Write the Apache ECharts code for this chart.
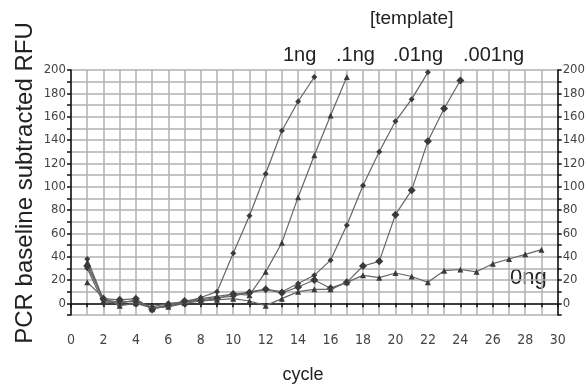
<!DOCTYPE html>
<html>
<head>
<meta charset="utf-8">
<script src="https://cdn.jsdelivr.net/npm/echarts@6/dist/echarts.min.js"></script>
<style>
  html, body { margin: 0; padding: 0; background: #fff; }
  #chart { width: 588px; height: 387px; }
</style>
</head>
<body>
<div id="chart"></div>
<script>
// cycles 1..29
var cycles = [1,2,3,4,5,6,7,8,9,10,11,12,13,14,15,16,17,18,19,20,21,22,23,24,25,26,27,28,29];

// RFU per template amount
var ng1    = [38, 3, 1, 2, -4, -2, 1, 5, 10, 43, 75, 111, 148, 173, 194];
var ng01   = [35, 2, 0, 3, -5, -1, 2, 4, 6, 8, 7, 27, 52, 91, 127, 161, 194];
var ng001  = [30, 0, 2, 1, -3, 0, 1, 3, 5, 6, 10, 12, 10, 17, 24, 37, 67, 101, 130, 156, 175, 198];
var ng0001 = [32, 4, 3, 4, -5, -2, 2, 2, 4, 8, 9, 12, 9, 14, 20, 13, 18, 32, 36, 76, 97, 139, 167, 191];
var ng0    = [18, 5, -2, 0, -4, -3, 0, 2, 3, 4, 2, -2, 4, 10, 12, 12, 18, 24, 22, 26, 23, 18, 28, 29, 27, 34, 38, 42, 46];

var seriesNames = ["1ng", ".1ng", ".01ng", ".001ng", "0ng"];
var seriesSymbols = ["diamond", "triangle", "diamond", "diamond", "triangle"];

var labelFont = "'Liberation Sans Narrow', 'DejaVu Sans Condensed', sans-serif";
var textFont = "Arial, 'Liberation Sans', sans-serif";

function pairs(vals) {
  return vals.map(function (v, i) { return [cycles[i], v]; });
}

var chart = echarts.init(document.getElementById("chart"));

var yAxisBase = {
  type: "value",
  min: -10,
  max: 200,
  interval: 10,
  axisLine: { show: true, lineStyle: { color: "#111", width: 1.5 } },
  axisTick: { show: true, length: 4, lineStyle: { color: "#111", width: 1.5 } },
  axisLabel: {
    fontFamily: labelFont,
    fontSize: 13,
    color: "#444",
    margin: 5,
    formatter: function (v) {
      return (v >= 0 && v % 20 === 0) ? String(v) : "";
    }
  }
};

var option = {
  animation: false,
  grid: { left: 71, right: 30, top: 70, bottom: 72 },
  xAxis: {
    type: "value",
    min: 0,
    max: 30,
    interval: 1,
    axisLine: { show: true, lineStyle: { color: "#111", width: 1.5 } },
    axisTick: { show: true, length: 4, lineStyle: { color: "#111", width: 1.5 } },
    splitLine: { show: true, lineStyle: { color: "#b0b0b0", width: 1.5 } },
    axisLabel: {
      fontFamily: labelFont,
      fontSize: 14,
      color: "#444",
      margin: 18,
      formatter: function (v) { return v % 2 === 0 ? String(v) : ""; }
    }
  },
  yAxis: [
    Object.assign({}, yAxisBase, {
      position: "left",
      splitLine: { show: true, lineStyle: { color: "#b0b0b0", width: 1.5 } }
    }),
    Object.assign({}, yAxisBase, {
      position: "right",
      splitLine: { show: false }
    })
  ],
  series: [ng1, ng01, ng001, ng0001, ng0].map(function (vals, k) {
    return {
      name: seriesNames[k],
      type: "line",
      data: pairs(vals),
      symbol: seriesSymbols[k],
      symbolSize: k === 3 ? 8 : 6,
      lineStyle: { color: "#666", width: 1.2 },
      itemStyle: { color: "#3a3a3a" },
      z: 5 + k
    };
  }),
  // titles, template labels and the 0ng tag
  graphic: [
    { type: "text", left: 370, top: 9, style: { text: "[template]", font: "19px " + textFont, fill: "#222" } },
    { type: "text", left: 283, top: 45, style: { text: "1ng", font: "20px " + textFont, fill: "#222" } },
    { type: "text", left: 336, top: 45, style: { text: ".1ng", font: "20px " + textFont, fill: "#222" } },
    { type: "text", left: 393, top: 45, style: { text: ".01ng", font: "20px " + textFont, fill: "#222" } },
    { type: "text", left: 463, top: 45, style: { text: ".001ng", font: "20px " + textFont, fill: "#222" } },
    { type: "text", left: 510, top: 267, style: { text: "0ng", font: "22px " + textFont, fill: "#222" } },
    { type: "text", x: 303, y: 375, style: { text: "cycle", font: "18px " + textFont, fill: "#222", align: "center", verticalAlign: "middle" } },
    { type: "text", x: 25, y: 183, rotation: Math.PI / 2, style: { text: "PCR baseline subtracted RFU", font: "24px " + textFont, fill: "#222", align: "center", verticalAlign: "middle" } }
  ]
};

chart.setOption(option);
</script>
</body>
</html>
